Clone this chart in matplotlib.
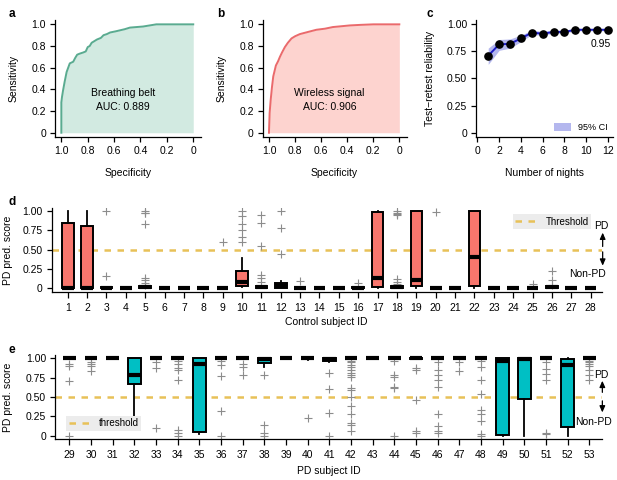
import matplotlib
matplotlib.use('Agg')
import matplotlib.pyplot as plt
from matplotlib.patches import Patch
from matplotlib.lines import Line2D

plt.rcParams['font.family'] = ['Liberation Sans', 'DejaVu Sans']
plt.rcParams['font.size'] = 7.5
plt.rcParams['axes.linewidth'] = 0.9
plt.rcParams['xtick.major.width'] = 0.9
plt.rcParams['ytick.major.width'] = 0.9
plt.rcParams['xtick.major.size'] = 3.5
plt.rcParams['ytick.major.size'] = 3.5
plt.rcParams['xtick.major.pad'] = 3
plt.rcParams['ytick.major.pad'] = 3

# ROC curves (specificity, sensitivity)
belt_spec = [1.0, 1.0, 0.995, 0.987, 0.975, 0.96, 0.945, 0.936, 0.91, 0.895, 0.88,
             0.86, 0.835, 0.815, 0.80, 0.785, 0.77, 0.75, 0.73, 0.70, 0.68, 0.655,
             0.63, 0.59, 0.555, 0.52, 0.48, 0.43, 0.38, 0.33, 0.28, 0.0]
belt_sens = [0.0, 0.28, 0.33, 0.39, 0.47, 0.56, 0.61, 0.64, 0.655, 0.69, 0.72,
             0.73, 0.74, 0.75, 0.79, 0.80, 0.83, 0.845, 0.86, 0.875, 0.90, 0.91,
             0.925, 0.935, 0.945, 0.955, 0.97, 0.975, 0.98, 0.99, 1.0, 1.0]
belt_auc = 0.889

wifi_spec = [1.0, 0.995, 0.987, 0.977, 0.967, 0.955, 0.947, 0.93, 0.916, 0.9,
             0.878, 0.855, 0.827, 0.80, 0.763, 0.70, 0.636, 0.57, 0.51, 0.44,
             0.38, 0.3, 0.2, 0.0]
wifi_sens = [0.0, 0.18, 0.30, 0.42, 0.52, 0.58, 0.62, 0.66, 0.70, 0.74,
             0.79, 0.83, 0.87, 0.89, 0.91, 0.93, 0.95, 0.96, 0.975, 0.983,
             0.99, 0.995, 1.0, 1.0]
wifi_auc = 0.906

# test-retest reliability
nights = [1, 2, 3, 4, 5, 6, 7, 8, 9, 10, 11, 12]
reliab = [0.71, 0.815, 0.82, 0.87, 0.923, 0.914, 0.93, 0.93, 0.95, 0.95, 0.95, 0.95]
ci_lo = [0.63, 0.76, 0.78, 0.84, 0.905, 0.90, 0.918, 0.918, 0.94, 0.94, 0.94, 0.94]
ci_hi = [0.78, 0.86, 0.865, 0.90, 0.945, 0.935, 0.945, 0.945, 0.96, 0.96, 0.96, 0.96]

# control subjects: box stats per subject
ctrl_ids = list(range(1, 29))
ctrl_q1 = [0, 0, 0, 0, 0, 0, 0, 0, 0, 0.03, 0, 0.005, 0, 0, 0, 0, 0.01, 0, 0.02, 0,
           0, 0.026, 0, 0, 0, 0, 0, 0]
ctrl_med = [0.005, 0.005, 0, 0, 0.01, 0, 0, 0, 0, 0.074, 0.01, 0.03, 0, 0, 0, 0, 0.125,
            0.01, 0.11, 0, 0, 0.40, 0, 0, 0, 0.01, 0, 0]
ctrl_q3 = [0.84, 0.81, 0.01, 0, 0.02, 0, 0, 0, 0, 0.22, 0.02, 0.06, 0, 0, 0, 0.01, 0.99,
           0.02, 1.0, 0, 0, 1.0, 0, 0, 0, 0.02, 0, 0]
ctrl_lo = [0, 0, 0, 0, 0, 0, 0, 0, 0, 0.01, 0, 0, 0, 0, 0, 0, 0, 0, 0, 0,
           0, 0, 0, 0, 0, 0, 0, 0]
ctrl_hi = [1.0, 1.0, 0.01, 0, 0.02, 0, 0, 0, 0, 0.39, 0.03, 0.095, 0, 0, 0, 0.01, 1.0,
           0.03, 1.0, 0, 0, 1.0, 0, 0, 0, 0.02, 0, 0]
ctrl_fliers = [[], [], [1.0, 0.15], [], [1.0, 0.98, 0.97, 0.83, 0.13, 0.10, 0.06, 0.04],
               [], [], [], [0.60], [1.0, 0.93, 0.83, 0.75, 0.66, 0.60],
               [0.95, 0.84, 0.55, 0.17, 0.13, 0.08], [1.0, 0.78, 0.44], [0.09], [], [],
               [0.06], [], [1.0, 0.98, 0.96, 0.95, 0.12, 0.08, 0.05], [], [0.99], [],
               [], [], [], [0.05], [0.22, 0.10, 0.04], [], []]

# PD subjects: box stats per subject
pd_ids = list(range(29, 54))
pd_q1 = [1.0, 1.0, 1.0, 0.664, 1.0, 1.0, 0.05, 1.0, 1.0, 0.945, 1.0, 1.0, 0.96, 1.0,
         1.0, 1.0, 0.99, 1.0, 1.0, 1.0, 0.01, 0.48, 1.0, 0.11, 1.0]
pd_med = [1.0, 1.0, 1.0, 0.785, 1.0, 1.0, 0.93, 1.0, 1.0, 0.99, 1.0, 1.0, 0.99, 1.0,
          1.0, 1.0, 1.0, 1.0, 1.0, 1.0, 0.97, 0.985, 1.0, 0.91, 1.0]
pd_q3 = [1.0, 1.0, 1.0, 1.0, 1.0, 1.0, 1.0, 1.0, 1.0, 1.0, 1.0, 1.0, 1.0, 1.0,
         1.0, 1.0, 1.0, 1.0, 1.0, 1.0, 1.0, 1.0, 1.0, 0.99, 1.0]
pd_lo = [1.0, 1.0, 1.0, 0.215, 1.0, 1.0, 0.02, 1.0, 1.0, 0.89, 1.0, 0.98, 0.95, 1.0,
         1.0, 1.0, 0.99, 1.0, 1.0, 1.0, 0.0, 0.0, 1.0, 0.0, 1.0]
pd_hi = [1.0] * 25
pd_fliers = [[0.93, 0.90, 0.71, 0.0], [0.95, 0.93, 0.90, 0.84], [], [],
             [0.95, 0.88, 0.10], [0.97, 0.93, 0.88, 0.85, 0.72, 0.07, 0.03, 0.0], [],
             [0.97, 0.92, 0.776, 0.32, 0.0], [0.93, 0.89, 0.78], [0.78, 0.14, 0.03, 0.0],
             [], [0.233], [0.81, 0.6, 0.29, 0.0],
             [0.97, 0.95, 0.92, 0.89, 0.85, 0.81, 0.78, 0.76, 0.62, 0.59, 0.5, 0.39,
              0.28, 0.16, 0.14, 0.06],
             [], [0.97, 0.79, 0.76, 0.63, 0.61, 0.0], [0.88, 0.85, 0.46, 0.06, 0.03],
             [0.95, 0.85, 0.79, 0.72, 0.63, 0.28, 0.12, 0.06, 0.03], [0.95, 0.83],
             [0.97, 0.89, 0.72, 0.54, 0.33, 0.28, 0.19, 0.02, 0.0], [], [],
             [0.95, 0.86, 0.80, 0.72, 0.03, 0.02], [],
             [0.97, 0.95, 0.93, 0.90, 0.85, 0.78, 0.72]]

threshold = 0.5

W, H = 617, 480
fig = plt.figure(figsize=(6.17, 4.8), dpi=100)


def px_axes(x0, y0, x1, y1):
    # axes from pixel box (left, top, right, bottom)
    return fig.add_axes([x0 / W, 1 - y1 / H, (x1 - x0) / W, (y1 - y0) / H])


def clean(ax):
    ax.spines['top'].set_visible(False)
    ax.spines['right'].set_visible(False)


def arrow(ax, x, y0, y1):
    ax.annotate('', xy=(x, y1), xytext=(x, y0), annotation_clip=False,
                arrowprops=dict(arrowstyle='-|>,head_width=0.22,head_length=0.5',
                                color='black', lw=0.9, shrinkA=0, shrinkB=0))


# ---- a / b : ROC ----
roc = [(belt_spec, belt_sens, belt_auc, 'Breathing belt', '#5aab90', '#d2eae1', 55, 200.5),
       (wifi_spec, wifi_sens, wifi_auc, 'Wireless signal', '#ea6a6c', '#fdd3cf', 262.7, 406.5)]
for spec, sens, auc, name, lc, fc, x0, x1 in roc:
    ax = px_axes(x0, 20, x1, 137.3)
    clean(ax)
    ax.fill_between(spec, sens, 0, color=fc, lw=0)
    ax.plot(spec, sens, color=lc, lw=1.4)
    ax.set_xlim(1.048, -0.055)
    ax.set_ylim(-0.042, 1.04)
    ticks = [1.0, 0.8, 0.6, 0.4, 0.2, 0]
    ax.set_xticks(ticks, ['1.0', '0.8', '0.6', '0.4', '0.2', '0'])
    ax.set_yticks(ticks, ['1.0', '0.8', '0.6', '0.4', '0.2', '0'])
    ax.set_xlabel('Specificity')
    ax.xaxis.set_label_coords(0.5, -0.26)
    ax.set_ylabel('Sensitivity')
    ax.yaxis.set_label_coords(-0.25, 0.5)
    ax.text(0.535, 0.37, name, ha='center', va='center', fontsize=7.5)
    ax.text(0.535, 0.24, 'AUC: %.3f' % auc, ha='center', va='center', fontsize=7.5)

# ---- c : reliability ----
ax = px_axes(476, 20, 613, 137.3)
clean(ax)
ax.fill_between(nights, ci_lo, ci_hi, color='#b4b7ee', lw=0)
ax.plot(nights, reliab, color='#1c1cc4', lw=1.4)
ax.plot(nights, reliab, 'o', color='black', ms=5.2)
ax.set_xlim(-0.12, 12.45)
ax.set_ylim(-0.043, 1.04)
ax.set_xticks([0, 2, 4, 6, 8, 10, 12])
ax.set_yticks([0, 0.25, 0.5, 0.75, 1.0], ['0', '0.25', '0.50', '0.75', '1.00'])
ax.set_xlabel('Number of nights')
ax.xaxis.set_label_coords(0.5, -0.26)
ax.set_ylabel('Test\u2212retest reliability')
ax.yaxis.set_label_coords(-0.30, 0.5)
ax.text(12.3, 0.815, '%.2f' % reliab[-1], ha='right', va='center')
ax.legend(handles=[Patch(facecolor='#b4b7ee', edgecolor='none', label='95% CI')],
          loc='lower right', frameon=False, fontsize=6.5, handlelength=1.8,
          handleheight=1.0, borderaxespad=0.2)


# ---- d / e : per-subject boxplots ----
def box_panel(ax, ids, q1, med, q3, lo, hi, fl, color, width):
    stats = []
    for i in range(len(ids)):
        stats.append({'q1': q1[i], 'med': med[i], 'q3': q3[i],
                      'whislo': lo[i], 'whishi': hi[i], 'fliers': fl[i]})
    ax.bxp(stats, positions=ids, widths=width, patch_artist=True, showcaps=False,
           manage_ticks=False,
           boxprops=dict(facecolor=color, edgecolor='black', linewidth=1.4),
           medianprops=dict(color='black', linewidth=3.0, solid_capstyle='butt'),
           whiskerprops=dict(color='black', linewidth=1.3),
           flierprops=dict(marker='+', markeredgecolor='#8c8c8c', markersize=6,
                           markeredgewidth=0.8, linestyle='none'))
    ax.set_xticks(ids)
    ax.set_yticks([0, 0.25, 0.5, 0.75, 1.0], ['0', '0.25', '0.50', '0.75', '1.00'])
    ax.tick_params(axis='x', length=4.5, pad=3.5)


ax = px_axes(51.7, 208, 601.7, 291.7)
clean(ax)
ax.axhline(threshold, color='#e8c158', lw=1.8, ls=(0, (2.6, 2.6)), zorder=1)
box_panel(ax, ctrl_ids, ctrl_q1, ctrl_med, ctrl_q3, ctrl_lo, ctrl_hi, ctrl_fliers,
          '#f8766d', 0.6)
ax.set_xlim(0.174, 28.57)
ax.set_ylim(-0.048, 1.04)
ax.set_xlabel('Control subject ID')
ax.xaxis.set_label_coords(0.5, -0.30)
ax.set_ylabel('PD pred. score')
ax.yaxis.set_label_coords(-0.07, 0.5)
ax.legend(handles=[Line2D([], [], color='#e8c158', lw=1.8, ls=(0, (2.6, 2.6)))],
          labels=['Threshold'], loc='upper left', bbox_to_anchor=(0.83, 0.985),
          fontsize=7, handlelength=2.3, fancybox=False, borderpad=0.25,
          facecolor='#ececec', edgecolor='none', framealpha=1)
ax.text(28.57, 0.80, 'PD', ha='center', va='center', clip_on=False)
ax.text(27.86, 0.18, 'Non-PD', ha='center', va='center', clip_on=False)
arrow(ax, 28.62, 0.54, 0.72)
arrow(ax, 28.62, 0.47, 0.29)

ax = px_axes(55, 355, 601.7, 439.3)
clean(ax)
ax.axhline(threshold, color='#e8c158', lw=1.8, ls=(0, (2.6, 2.6)), zorder=1)
box_panel(ax, pd_ids, pd_q1, pd_med, pd_q3, pd_lo, pd_hi, pd_fliers, '#00bfc4', 0.58)
ax.set_xlim(28.34, 53.57)
ax.set_ylim(-0.047, 1.043)
ax.set_xlabel('PD subject ID')
ax.xaxis.set_label_coords(0.5, -0.32)
ax.set_ylabel('PD pred. score')
ax.yaxis.set_label_coords(-0.076, 0.5)
ax.legend(handles=[Line2D([], [], color='#e8c158', lw=1.8, ls=(0, (2.6, 2.6)))],
          labels=['threshold'], loc='lower left', bbox_to_anchor=(0.012, 0.045),
          fontsize=7, handlelength=2.3, fancybox=False, borderpad=0.25,
          facecolor='#ececec', edgecolor='none', framealpha=1)
ax.text(53.57, 0.78, 'PD', ha='center', va='center', clip_on=False)
ax.text(53.17, 0.18, 'Non-PD', ha='center', va='center', clip_on=False)
arrow(ax, 53.6, 0.56, 0.71)
arrow(ax, 53.6, 0.45, 0.30)

# panel letters
for letter, x, y in [('a', 8.3, 14), ('b', 216.7, 14), ('c', 426.7, 14),
                     ('d', 8.3, 202), ('e', 8.3, 350)]:
    fig.text(x / W, 1 - y / H, letter, fontsize=8.5, fontweight='bold',
             ha='left', va='center')

fig.savefig('out.png', dpi=100)
